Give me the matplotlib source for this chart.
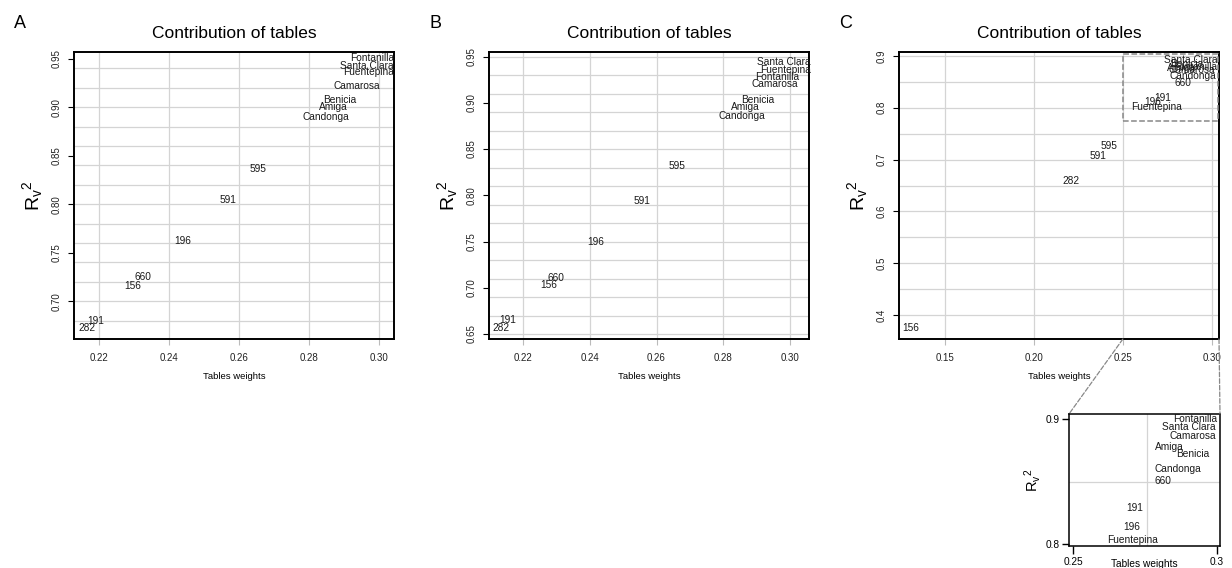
import matplotlib
matplotlib.use("Agg")
import numpy as np
from matplotlib import pyplot as plt
from matplotlib.patches import Rectangle, ConnectionPatch

plt.rcParams['font.family'] = ['Liberation Sans', 'DejaVu Sans']
plt.rcParams['mathtext.fontset'] = 'custom'
plt.rcParams['mathtext.rm'] = 'Liberation Sans'
plt.rcParams['mathtext.it'] = 'Liberation Sans'

# panel A
labels_a = ["Fontanilla", "Santa Clara", "Fuentepina", "Camarosa", "Benicia", "Amiga", "Candonga",
            "595", "591", "196", "660", "156", "191", "282"]
weights_a = [0.2980, 0.2966, 0.2969, 0.2937, 0.2889, 0.2871, 0.2849,
             0.2654, 0.2569, 0.2440, 0.2326, 0.2297, 0.2191, 0.2166]
rv2_a = [0.951, 0.943, 0.936, 0.922, 0.908, 0.900, 0.890,
         0.836, 0.804, 0.762, 0.725, 0.716, 0.680, 0.672]

# panel B
labels_b = ["Santa Clara", "Fuentepina", "Fontanilla", "Camarosa", "Benicia", "Amiga", "Candonga",
            "595", "591", "196", "660", "156", "191", "282"]
weights_b = [0.2982, 0.2988, 0.2961, 0.2955, 0.2904, 0.2865, 0.2856,
             0.2660, 0.2556, 0.2419, 0.2299, 0.2278, 0.2155, 0.2134]
rv2_b = [0.9446, 0.936, 0.928, 0.920, 0.903, 0.896, 0.886,
         0.832, 0.794, 0.749, 0.711, 0.7025, 0.665, 0.656]

# panel C
labels_c = ["Santa Clara", "Benicia", "Fontanilla", "Amiga", "Camarosa", "Candonga", "660",
            "191", "196", "Fuentepina", "595", "591", "282", "156"]
weights_c = [0.2882, 0.2860, 0.2904, 0.2831, 0.2890, 0.2893, 0.2837,
             0.2725, 0.2669, 0.2691, 0.2421, 0.2360, 0.2208, 0.1309]
rv2_c = [0.892, 0.8846, 0.879, 0.877, 0.873, 0.861, 0.848,
         0.819, 0.811, 0.8015, 0.726, 0.707, 0.659, 0.375]

# zoom of panel C
labels_z = ["Fontanilla", "Santa Clara", "Camarosa", "Amiga", "Benicia", "Candonga", "660",
            "191", "196", "Fuentepina"]
weights_z = [0.2924, 0.2903, 0.2917, 0.2834, 0.2917, 0.2865, 0.2812, 0.2715, 0.2705, 0.2708]
rv2_z = [0.900, 0.8936, 0.8864, 0.878, 0.872, 0.860, 0.8504, 0.829, 0.814, 0.803]

xticks_ab = [0.22, 0.24, 0.26, 0.28, 0.30]
yticks_a = [0.70, 0.75, 0.80, 0.85, 0.90, 0.95]
yticks_b = [0.65, 0.70, 0.75, 0.80, 0.85, 0.90, 0.95]
xticks_c = [0.15, 0.20, 0.25, 0.30]
yticks_c = [0.4, 0.5, 0.6, 0.7, 0.8, 0.9]
xticks_z = [0.25, 0.3]
xticklabels_z = ["0.25", "0.3"]
yticks_z = [0.8, 0.9]
yticklabels_z = ["0.8", "0.9"]
zoom_box = (0.25, 0.7745, 0.3035, 0.9045)

W, H = 1232, 568
fig = plt.figure(figsize=(W / 100, H / 100), dpi=100)

def px_axes(l, t, r, b):
    return fig.add_axes([l / W, 1 - b / H, (r - l) / W, (b - t) / H])

GRID = '#d4d4d4'
TXT = '#1a1a1a'
ylab = r'$\mathrm{R}_{\mathrm{v}}{}^{2}$'

def panel(ax, labels, xs, ys, xlim, ylim, xt, yt, xfmt, yfmt, xg, yg, letter):
    for v in xg:
        ax.axvline(v, color=GRID, lw=0.9, zorder=0)
    for v in yg:
        ax.axhline(v, color=GRID, lw=0.9, zorder=0)
    for lab, x, y in zip(labels, xs, ys):
        ax.text(x, y, lab, fontsize=7.3, ha='center', va='center', color=TXT)
    ax.set_xlim(xlim)
    ax.set_ylim(ylim)
    ax.set_xticks(xt)
    ax.set_xticklabels([xfmt.format(v) for v in xt])
    ax.set_yticks(yt)
    ax.set_yticklabels([yfmt.format(v) for v in yt], rotation=90, va='center')
    ax.tick_params(axis='x', length=4, color='#bbbbbb', pad=6, labelsize=7, labelcolor='#222222')
    ax.tick_params(axis='y', length=4, width=0.8, pad=5, labelsize=7, labelcolor='#222222')
    for s in ax.spines.values():
        s.set_linewidth(1.4)
    ax.text(0.5, 1.066, "Contribution of tables", transform=ax.transAxes,
            ha='center', va='center', fontsize=12.5)
    ax.text(0.5, -0.132, "Tables weights", transform=ax.transAxes,
            ha='center', va='center', fontsize=6.8)
    ax.text(-0.128, 0.5, ylab, transform=ax.transAxes, rotation=90,
            ha='center', va='center', fontsize=14)
    ax.text(-0.168, 1.1, letter, transform=ax.transAxes, ha='center', va='center', fontsize=13)

ax_a = px_axes(74, 52, 394, 339)
panel(ax_a, labels_a, weights_a, rv2_a, (0.2129, 0.3043), (0.661, 0.957),
      xticks_ab, yticks_a, "{:.2f}", "{:.2f}",
      xticks_ab, np.arange(0.68, 0.95, 0.02), "A")

ax_b = px_axes(489, 52, 809, 339)
panel(ax_b, labels_b, weights_b, rv2_b, (0.2098, 0.3057), (0.6446, 0.955),
      xticks_ab, yticks_b, "{:.2f}", "{:.2f}",
      xticks_ab, np.arange(0.65, 0.955, 0.02), "B")

ax_c = px_axes(899, 52, 1219, 339)
panel(ax_c, labels_c, weights_c, rv2_c, (0.1242, 0.304), (0.3537, 0.9077),
      xticks_c, yticks_c, "{:.2f}", "{:.1f}",
      xticks_c, np.arange(0.40, 0.91, 0.05), "C")
ax_c.add_patch(Rectangle((zoom_box[0], zoom_box[1]), zoom_box[2] - zoom_box[0],
                         zoom_box[3] - zoom_box[1], fill=False, ls='--', lw=1.1,
                         ec='#888888', zorder=3))

# inset
ax_z = px_axes(1069, 414, 1220, 546)
ax_z.axvline(0.2755, color=GRID, lw=0.9, zorder=0)
ax_z.axhline(0.85, color=GRID, lw=0.9, zorder=0)
for lab, x, y in zip(labels_z, weights_z, rv2_z):
    ax_z.text(x, y, lab, fontsize=7.3, ha='center', va='center', color=TXT)
ax_z.set_xlim(0.2486, 0.301)
ax_z.set_ylim(0.7984, 0.904)
ax_z.set_xticks(xticks_z)
ax_z.set_xticklabels(xticklabels_z)
ax_z.set_yticks(yticks_z)
ax_z.set_yticklabels(yticklabels_z)
ax_z.tick_params(axis='x', length=6, width=1, pad=2, labelsize=7.3)
ax_z.tick_params(axis='y', length=5, width=1, pad=2, labelsize=7.3)
for s in ax_z.spines.values():
    s.set_linewidth(1.1)
ax_z.text(0.5, -0.14, "Tables weights", transform=ax_z.transAxes,
          ha='center', va='center', fontsize=7.3)
ax_z.text(-0.245, 0.5, ylab, transform=ax_z.transAxes, rotation=90,
          ha='center', va='center', fontsize=10.5)

for xa, xb in [((0.25, 0.3537), (0.0, 1.0)), ((0.304, 0.3537), (1.0, 1.0))]:
    con = ConnectionPatch(xyA=xa, coordsA=ax_c.transData, xyB=xb, coordsB=ax_z.transAxes,
                          ls='--', lw=0.9, color='#888888')
    fig.add_artist(con)

fig.savefig("out.png", dpi=100)
